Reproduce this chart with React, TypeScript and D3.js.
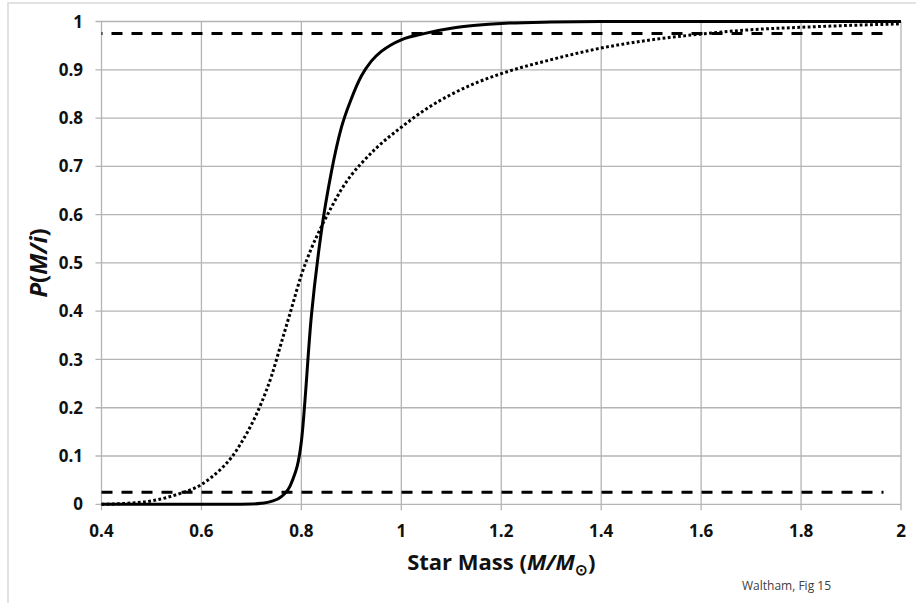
import React from "react";
import * as d3 from "d3";

const massTicks = [0.4, 0.6, 0.8, 1.0, 1.2, 1.4, 1.6, 1.8, 2.0];
const probTicks = [0, 0.1, 0.2, 0.3, 0.4, 0.5, 0.6, 0.7, 0.8, 0.9, 1.0];

const solidMass = [0.4, 0.5, 0.6, 0.66, 0.7, 0.72, 0.74, 0.76, 0.78, 0.8, 0.82, 0.84, 0.86, 0.88, 0.9, 0.92, 0.94, 0.96, 0.98, 1.0, 1.05, 1.1, 1.15, 1.2, 1.3, 1.4, 1.6, 1.8, 2.0];
const solidProb = [0, 0, 0, 0, 0.0005, 0.002, 0.006, 0.016, 0.044, 0.13, 0.39, 0.565, 0.688, 0.78, 0.84, 0.887, 0.918, 0.938, 0.952, 0.962, 0.976, 0.986, 0.992, 0.996, 0.999, 1.0, 1.0, 1.0, 1.0];

const dottedMass = [0.4, 0.45, 0.5, 0.55, 0.6, 0.62, 0.64, 0.66, 0.68, 0.7, 0.72, 0.74, 0.76, 0.78, 0.8, 0.82, 0.84, 0.86, 0.88, 0.9, 0.92, 0.95, 1.0, 1.05, 1.1, 1.15, 1.2, 1.3, 1.4, 1.5, 1.6, 1.7, 1.8, 1.9, 2.0];
const dottedProb = [0, 0.002, 0.007, 0.02, 0.041, 0.056, 0.074, 0.097, 0.128, 0.165, 0.21, 0.265, 0.335, 0.405, 0.475, 0.53, 0.575, 0.615, 0.652, 0.682, 0.706, 0.738, 0.781, 0.819, 0.849, 0.873, 0.892, 0.921, 0.945, 0.962, 0.974, 0.983, 0.988, 0.992, 0.995];

const boundMass = [0.4, 1.965];
const lowerBound = 0.025;
const upperBound = 0.975;

const FONT = "'Open Sans', 'Liberation Sans', sans-serif";

export default function App() {
  const x = d3.scaleLinear().domain([0.4, 2]).range([101.5, 901]);
  const y = d3.scaleLinear().domain([0, 1]).range([504.3, 21.5]);
  const fmt = d3.format("~g");

  const solidLine = d3
    .line<number>()
    .x((d, i) => x(solidMass[i]))
    .y((d) => y(d))
    .curve(d3.curveMonotoneX);
  const dottedLine = d3
    .line<number>()
    .x((d, i) => x(dottedMass[i]))
    .y((d) => y(d))
    .curve(d3.curveMonotoneX);
  const boundLine = (v: number) =>
    d3
      .line<number>()
      .x((d) => x(d))
      .y(() => y(v))(boundMass) as string;

  const [y0, y1] = y.range();
  const [x0, x1] = x.range();

  return (
    <svg
      width={916}
      height={603}
      style={{ position: "absolute", left: 0, top: 0, background: "#fff" }}
    >
      <rect x={8} y={3} width={1000} height={1000} fill="#fff" stroke="#d9d9d9" strokeWidth={1.5} />
      {/* grid */}
      {probTicks.map((t) => (
        <line key={"h" + t} x1={x0 - 6} x2={x1} y1={y(t)} y2={y(t)} stroke="#b4b4b4" strokeWidth={1.3} />
      ))}
      {massTicks.map((t) => (
        <line key={"v" + t} x1={x(t)} x2={x(t)} y1={y1} y2={y0 + 6} stroke="#b4b4b4" strokeWidth={1.3} />
      ))}
      {/* tick labels */}
      {probTicks.map((t) => (
        <text
          key={"yl" + t}
          x={83}
          y={y(t)}
          dy="0.36em"
          textAnchor="end"
          fontFamily={FONT}
          fontWeight={700}
          fontSize={17}
          fill="#111"
        >
          {fmt(t)}
        </text>
      ))}
      {massTicks.map((t) => (
        <text
          key={"xl" + t}
          x={x(t)}
          y={537}
          textAnchor="middle"
          fontFamily={FONT}
          fontWeight={700}
          fontSize={17}
          fill="#111"
        >
          {fmt(t)}
        </text>
      ))}
      {/* series */}
      <path d={boundLine(lowerBound)} fill="none" stroke="#000" strokeWidth={3} strokeDasharray="11 9" />
      <path d={boundLine(upperBound)} fill="none" stroke="#000" strokeWidth={3} strokeDasharray="11 9" strokeDashoffset={10} />
      <path d={dottedLine(dottedProb) as string} fill="none" stroke="#000" strokeWidth={3} strokeDasharray="2.8 2.4" />
      <path d={solidLine(solidProb) as string} fill="none" stroke="#000" strokeWidth={3} strokeLinejoin="round" />
      {/* axis titles */}
      <text
        x={(x0 + x1) / 2}
        y={570}
        textAnchor="middle"
        fontFamily={FONT}
        fontWeight={700}
        fontSize={22}
        fill="#111"
      >
        Star Mass (<tspan fontStyle="italic">M</tspan>
        <tspan fontStyle="italic">/</tspan>
        <tspan fontStyle="italic">M</tspan>
        <tspan fontSize={15} dy={5}>⊙</tspan>
        <tspan dy={-5}>)</tspan>
      </text>
      <text
        transform={`translate(47, ${(y0 + y1) / 2}) rotate(-90)`}
        textAnchor="middle"
        fontFamily={FONT}
        fontWeight={700}
        fontSize={24}
        fill="#111"
      >
        <tspan fontStyle="italic">P</tspan>(<tspan fontStyle="italic">M/i</tspan>)
      </text>
      <text x={742} y={590} fontFamily={FONT} fontSize={12} fill="#404040">
        Waltham, Fig 15
      </text>
    </svg>
  );
}
